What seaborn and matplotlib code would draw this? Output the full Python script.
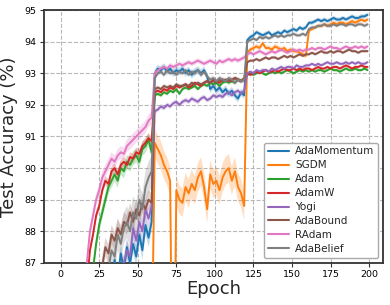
import numpy as np
import pandas as pd
import matplotlib
matplotlib.use("Agg")
import matplotlib.pyplot as plt
import seaborn as sns

# Epochs sampled (odd epochs 1..199)
epochs = list(range(1, 200, 2))

names = ["AdaMomentum", "SGDM", "Adam", "AdamW", "Yogi", "AdaBound", "RAdam", "AdaBelief"]

ada_momentum = [
    60, 66, 70, 73, 75.5, 77.5, 79, 80.5, 81.5, 82.5, 83.3, 84.0, 84.6, 85.1, 85.5,
    85.9, 86.2, 87.1, 86.5, 87.3, 86.8, 87.5, 87.0, 87.6, 87.2, 87.9, 87.4, 88.2, 87.8, 88.3,
    93.0, 93.15, 93.1, 93.2, 93.05, 93.15, 93.0, 93.1, 93.05, 93.15, 93.0, 93.1, 92.95, 93.05, 93.1,
    93.0, 93.1, 92.9, 92.5, 92.6, 92.45, 92.55, 92.4, 92.5, 92.35, 92.45, 92.3, 92.2, 92.4, 92.3,
    94.05, 94.15, 94.2, 94.3, 94.25, 94.2, 94.25, 94.3, 94.2, 94.25, 94.3, 94.25, 94.35, 94.3, 94.35,
    94.4, 94.35, 94.45, 94.4, 94.45,
    94.6, 94.6, 94.65, 94.7, 94.65, 94.7, 94.65, 94.7, 94.75, 94.7, 94.7, 94.75, 94.7, 94.75, 94.8,
    94.75, 94.75, 94.8, 94.8, 94.85,
]
sgdm = [
    55, 62, 66, 69, 71, 72.5, 74, 75, 76, 77, 77.5, 78, 78.6, 79, 79.5,
    79.8, 80.2, 80.5, 80.9, 81.2, 81.5, 81.7, 82.0, 82.3, 82.5, 82.7, 83.0, 83.2, 83.4, 83.6,
    90.8, 90.6, 90.4, 90.1, 89.9, 89.6, 80.0, 89.3, 89.0, 88.9, 89.4, 89.2, 89.5, 89.3, 89.7,
    89.9, 89.4, 88.7, 89.8, 89.5, 89.6, 89.3, 89.7, 89.9, 90.0, 89.6, 89.9, 89.4, 89.2, 88.8,
    93.65, 93.75, 93.8, 93.85, 93.8, 93.95, 93.8, 93.8, 93.75, 93.85, 93.8, 93.75, 93.8, 93.7, 93.75,
    93.7, 93.7, 93.65, 93.6, 93.55,
    94.35, 94.4, 94.45, 94.5, 94.5, 94.55, 94.5, 94.55, 94.6, 94.55, 94.6, 94.6, 94.55, 94.6, 94.65,
    94.6, 94.65, 94.7, 94.65, 94.7,
]
adam = [
    62, 69, 73, 76, 78.5, 80.5, 82, 83.4, 84.6, 85.7, 86.8, 87.6, 88.2, 88.6, 89.0,
    89.4, 89.6, 89.8, 89.6, 90.0, 89.9, 90.2, 90.1, 90.3, 90.4, 90.2, 90.6, 90.7, 90.9, 90.5,
    92.3, 92.35, 92.3, 92.4, 92.35, 92.45, 92.4, 92.5, 92.35, 92.5, 92.55, 92.5, 92.55, 92.6, 92.5,
    92.6, 92.65, 92.6, 92.7, 92.65, 92.7, 92.6, 92.7, 92.75, 92.7, 92.75, 92.7, 92.8, 92.75, 92.8,
    92.95, 93.0, 92.95, 93.0, 93.05, 93.0, 92.95, 93.0, 93.05, 93.0, 93.05, 93.0, 93.05, 93.1, 93.05,
    93.0, 93.05, 93.1, 93.05, 93.1,
    93.05, 93.1, 93.05, 93.1, 93.1, 93.05, 93.1, 93.15, 93.1, 93.1, 93.05, 93.1, 93.15, 93.1, 93.1,
    93.15, 93.1, 93.1, 93.15, 93.1,
]
adamw = [
    64, 71, 75, 78, 80.3, 82.1, 83.6, 85.0, 86.3, 87.4, 87.9, 88.5, 88.8, 89.3, 89.6,
    89.5, 89.9, 90.0, 89.8, 90.1, 90.2, 90.1, 90.35, 90.3, 90.5, 90.45, 90.7, 90.8, 90.95, 90.85,
    92.4, 92.45, 92.4, 92.5, 92.45, 92.55, 92.5, 92.6, 92.55, 92.6, 92.65, 92.55, 92.6, 92.7, 92.65,
    92.6, 92.7, 92.75, 92.7, 92.8, 92.75, 92.7, 92.8, 92.75, 92.8, 92.75, 92.85, 92.8, 92.75, 92.8,
    93.0, 92.95, 93.0, 93.05, 93.0, 93.05, 93.1, 93.05, 93.05, 93.1, 93.05, 93.1, 93.15, 93.1, 93.1,
    93.15, 93.1, 93.15, 93.1, 93.15,
    93.15, 93.1, 93.15, 93.2, 93.15, 93.15, 93.2, 93.15, 93.2, 93.2, 93.15, 93.2, 93.25, 93.2, 93.15,
    93.2, 93.2, 93.25, 93.2, 93.2,
]
yogi = [
    58, 64, 68, 71, 73.5, 75.5, 77, 78.5, 79.7, 80.8, 81.8, 82.6, 83.3, 84.0, 84.6,
    85.1, 85.6, 86.0, 86.3, 86.7, 87.0, 87.4, 87.2, 88.1, 87.7, 88.3, 88.0, 88.7, 88.4, 88.8,
    91.8, 91.85, 91.95, 91.9, 92.0, 91.95, 92.05, 92.1, 92.0, 92.1, 92.15, 92.1, 92.2, 92.15, 92.1,
    92.2, 92.25, 92.15, 92.2, 92.3, 92.25, 92.3, 92.25, 92.35, 92.4, 92.3, 92.4, 92.45, 92.35, 92.45,
    93.0, 93.05, 93.0, 93.1, 93.05, 93.1, 93.1, 93.05, 93.15, 93.1, 93.15, 93.2, 93.15, 93.2, 93.2,
    93.15, 93.25, 93.2, 93.2, 93.25,
    93.25, 93.3, 93.25, 93.3, 93.25, 93.3, 93.35, 93.3, 93.3, 93.35, 93.3, 93.3, 93.35, 93.3, 93.35,
    93.3, 93.35, 93.3, 93.3, 93.35,
]
adabound = [
    60, 67, 71, 74, 76.5, 78.5, 80, 81.4, 82.6, 83.7, 84.6, 85.4, 86.2, 86.9, 87.5,
    87.3, 87.9, 87.7, 88.1, 87.9, 88.3, 88.2, 88.6, 88.3, 88.7, 88.5, 88.9, 88.7, 89.0, 88.9,
    92.5, 92.55, 92.5, 92.6, 92.55, 92.6, 92.55, 92.65, 92.6, 92.6, 92.65, 92.6, 92.7, 92.65, 92.7,
    92.65, 92.7, 92.75, 92.7, 92.75, 92.7, 92.8, 92.75, 92.8, 92.75, 92.8, 92.85, 92.8, 92.75, 92.85,
    93.35, 93.4, 93.4, 93.45, 93.4, 93.45, 93.5, 93.45, 93.5, 93.5, 93.45, 93.5, 93.55, 93.5, 93.55,
    93.5, 93.55, 93.6, 93.55, 93.6,
    93.6, 93.65, 93.6, 93.65, 93.7, 93.65, 93.65, 93.7, 93.65, 93.7, 93.7, 93.65, 93.7, 93.75, 93.7,
    93.7, 93.65, 93.7, 93.7, 93.7,
]
radam = [
    66, 73, 77, 80, 82.2, 83.8, 85.0, 86.1, 87.0, 88.0, 88.5, 89.0, 89.3, 89.7, 89.9,
    90.1, 90.3, 90.2, 90.4, 90.5, 90.45, 90.7, 90.8, 90.9, 91.0, 91.1, 91.2, 91.3, 91.5, 91.6,
    93.0, 93.1, 93.15, 93.2, 93.15, 93.25, 93.2, 93.25, 93.3, 93.25, 93.3, 93.35, 93.3, 93.35, 93.4,
    93.35, 93.3, 93.35, 93.4, 93.35, 93.3, 93.4, 93.35, 93.4, 93.45, 93.4, 93.45, 93.4, 93.45, 93.5,
    93.6, 93.65, 93.6, 93.65, 93.7, 93.65, 93.6, 93.65, 93.7, 93.65, 93.7, 93.75, 93.7, 93.65, 93.7,
    93.75, 93.7, 93.75, 93.7, 93.75,
    93.75, 93.8, 93.75, 93.8, 93.8, 93.75, 93.8, 93.85, 93.8, 93.8, 93.75, 93.8, 93.85, 93.8, 93.8,
    93.85, 93.8, 93.85, 93.8, 93.85,
]
adabelief = [
    58, 65, 69, 72, 74.5, 76.5, 78, 79.5, 80.7, 81.8, 82.8, 83.7, 84.5, 85.2, 86.0,
    86.8, 87.4, 87.2, 87.9, 87.6, 88.1, 88.3, 88.0, 88.6, 88.4, 89.0, 88.7, 89.4, 89.7, 89.9,
    92.85, 93.0, 93.05, 92.95, 93.1, 93.0, 93.05, 92.95, 93.05, 93.0, 93.1, 92.95, 93.05, 93.0, 93.1,
    92.95, 93.05, 92.9, 92.8, 92.85, 92.75, 92.85, 92.8, 92.75, 92.85, 92.8, 92.7, 92.8, 92.75, 92.8,
    94.0, 94.05, 94.1, 94.05, 94.15, 94.1, 94.15, 94.1, 94.15, 94.2, 94.15, 94.2, 94.15, 94.2, 94.2,
    94.25, 94.2, 94.2, 94.25, 94.2,
    94.4, 94.45, 94.45, 94.5, 94.5, 94.55, 94.5, 94.5, 94.55, 94.5, 94.55, 94.55, 94.5, 94.55, 94.55,
    94.5, 94.55, 94.55, 94.5, 94.55,
]

# Shaded band half-width per learning-rate phase (epochs <60, 60-120, 120-160, >160)
band_halfwidth = {
    "AdaMomentum": [0.3, 0.12, 0.07, 0.07],
    "SGDM": [0.5, 0.45, 0.08, 0.07],
    "Adam": [0.22, 0.06, 0.05, 0.05],
    "AdamW": [0.15, 0.06, 0.05, 0.05],
    "Yogi": [0.3, 0.08, 0.06, 0.05],
    "AdaBound": [0.3, 0.06, 0.05, 0.05],
    "RAdam": [0.2, 0.08, 0.07, 0.06],
    "AdaBelief": [0.5, 0.08, 0.06, 0.06],
}
phase_sizes = [30, 30, 20, 20]

series = [ada_momentum, sgdm, adam, adamw, yogi, adabound, radam, adabelief]

df = pd.concat(
    [pd.DataFrame({"Epoch": epochs, "acc": vals, "opt": n}) for n, vals in zip(names, series)],
    ignore_index=True,
)

sns.set_style("whitegrid", {
    "grid.linestyle": "--",
    "grid.color": "#b8b8b8",
    "axes.edgecolor": "#333333",
    "xtick.bottom": True,
    "ytick.left": True,
})
plt.rcParams["font.family"] = ["DejaVu Sans"]

palette = sns.color_palette("tab10", 8)

fig = plt.figure(figsize=(3.9, 3.05), dpi=100)
ax = fig.add_axes([0.112, 0.138, 0.870, 0.829])

sns.lineplot(data=df, x="Epoch", y="acc", hue="opt", palette=palette,
             linewidth=1.4, errorbar=None, ax=ax, zorder=3)

for n, vals, col in zip(names, series, palette):
    hw = np.repeat(band_halfwidth[n], phase_sizes)
    v = np.asarray(vals, dtype=float)
    ax.fill_between(epochs, v - hw, v + hw, color=col, alpha=0.25, linewidth=0, zorder=2)

ax.set_xlim(-11, 209)
ax.set_ylim(87, 95)
ax.set_xticks([0, 25, 50, 75, 100, 125, 150, 175, 200])
ax.set_yticks([87, 88, 89, 90, 91, 92, 93, 94, 95])
ax.tick_params(axis="both", labelsize=6.8, length=3, width=0.8, colors="#333333", labelcolor="black", pad=2)
ax.grid(True, linestyle="--", linewidth=0.8, color="#b8b8b8")
for s in ax.spines.values():
    s.set_linewidth(1.3)
    s.set_color("#333333")

ax.set_xlabel("Epoch", fontsize=13, labelpad=1)
ax.set_ylabel("Test Accuracy (%)", fontsize=13, labelpad=5)

leg = ax.legend(loc="lower right", fontsize=7.5, frameon=True, fancybox=True,
                edgecolor="#aaaaaa", framealpha=1.0, handlelength=2.0,
                handletextpad=0.6, labelspacing=0.38, borderpad=0.35, title=None)
for line in leg.get_lines():
    line.set_linewidth(1.5)

fig.savefig("out.png", dpi=100)
